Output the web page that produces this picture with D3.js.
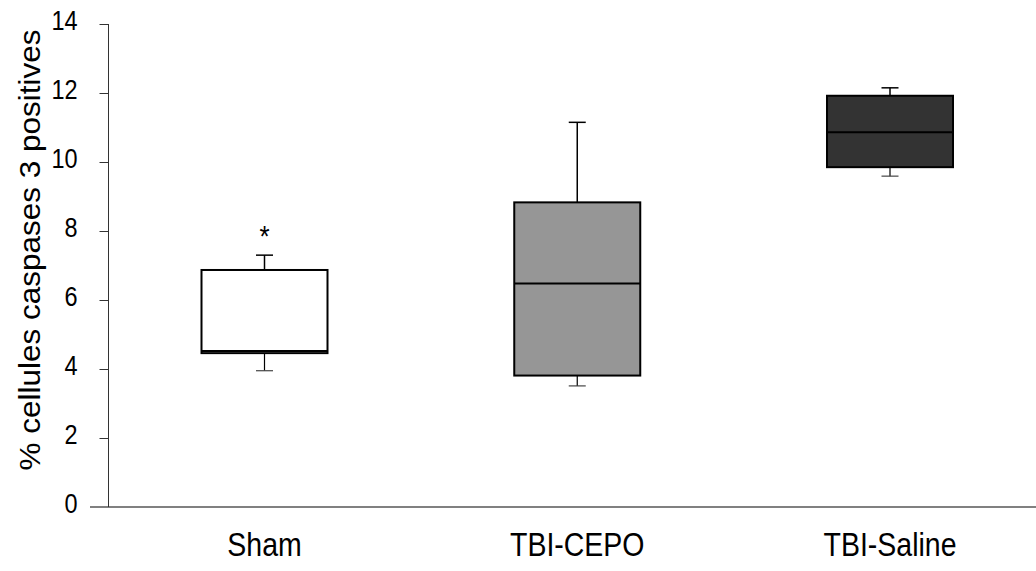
<!DOCTYPE html>
<html><head><meta charset="utf-8">
<script src="https://cdn.jsdelivr.net/npm/d3@7"></script>
<style>html,body{margin:0;padding:0;background:#fff;}svg{display:block;}</style>
</head><body>
<svg id="c" width="1036" height="571"></svg>
<script>
const categories = ["Sham", "TBI-CEPO", "TBI-Saline"];
const whiskerLow  = [3.95, 3.51, 9.59];
const q1          = [4.46, 3.81, 9.85];
const median      = [4.52, 6.48, 10.86];
const q3          = [6.87, 8.83, 11.92];
const whiskerHigh = [7.30, 11.15, 12.15];
const fills       = ["#ffffff", "#969696", "#333333"];
const yTicks      = [0, 2, 4, 6, 8, 10, 12, 14];
const annotations = ["*", "", ""];
const yLabel = "% cellules caspases 3 positives";

const svg = d3.select("#c");
const font = "'Liberation Sans', Arial, sans-serif";
const x = d3.scalePoint().domain(categories).range([264.5, 890]);
const y = d3.scaleLinear().domain([0, 14]).range([507, 24]);
const boxW = 126, capW = 17;
const stretch = 1.15;

// x axis line (gray)
svg.append("line").attr("x1", 90).attr("x2", 1036).attr("y1", y(0)).attr("y2", y(0))
  .attr("stroke", "#808080").attr("stroke-width", 2);

// y axis
const yAxis = svg.append("g").attr("transform", "translate(108.5,0)")
  .call(d3.axisLeft(y).tickValues(yTicks).tickSize(9).tickPadding(22).tickFormat(d3.format("d")));
yAxis.select(".domain").attr("stroke", "#333").attr("d", `M0,${y(14)}V${y(0)}`);
yAxis.selectAll(".tick line").attr("stroke", "#333");
yAxis.selectAll(".tick").filter(d => d === 0).select("line").remove();
yAxis.selectAll("text").attr("font-family", font).attr("font-size", 23.5).attr("fill", "#000")
  .attr("dy", null).attr("y", 0)
  .attr("transform", `translate(0,5) scale(1,${stretch})`);

// y label
svg.append("text").attr("transform", `translate(40,250) rotate(-90) scale(1.05,1)`)
  .attr("text-anchor", "middle").attr("font-family", font).attr("font-size", 30)
  .attr("fill", "#000").text(yLabel);

// boxes
const g = svg.append("g");
categories.forEach((c, i) => {
  const cx = x(c);
  g.append("line").attr("x1", cx).attr("x2", cx).attr("y1", y(q3[i])).attr("y2", y(whiskerHigh[i]))
    .attr("stroke", "#000").attr("stroke-width", 1.5);
  g.append("line").attr("x1", cx - capW/2).attr("x2", cx + capW/2).attr("y1", y(whiskerHigh[i])).attr("y2", y(whiskerHigh[i]))
    .attr("stroke", "#000").attr("stroke-width", 1.5);
  g.append("line").attr("x1", cx).attr("x2", cx).attr("y1", y(q1[i])).attr("y2", y(whiskerLow[i]))
    .attr("stroke", "#000").attr("stroke-width", 1.2);
  g.append("line").attr("x1", cx - capW/2).attr("x2", cx + capW/2).attr("y1", y(whiskerLow[i])).attr("y2", y(whiskerLow[i]))
    .attr("stroke", "#444").attr("stroke-width", 1.2);
  g.append("rect").attr("x", cx - boxW/2).attr("y", y(q3[i])).attr("width", boxW)
    .attr("height", y(q1[i]) - y(q3[i])).attr("fill", fills[i]).attr("stroke", "#000").attr("stroke-width", 2);
  g.append("line").attr("x1", cx - boxW/2).attr("x2", cx + boxW/2).attr("y1", y(median[i])).attr("y2", y(median[i]))
    .attr("stroke", "#000").attr("stroke-width", 2);
  if (annotations[i]) {
    g.append("text").attr("transform", `translate(${cx},${y(whiskerHigh[i]) - 9}) scale(1,${stretch})`)
      .attr("text-anchor", "middle")
      .attr("font-family", font).attr("font-size", 26).attr("fill", "#000").text(annotations[i]);
  }
});

// category labels
svg.append("g").selectAll("text").data(categories).join("text")
  .attr("transform", d => `translate(${x(d)},556) scale(1,${stretch})`).attr("text-anchor", "middle")
  .attr("font-family", font).attr("font-size", 28.5).attr("fill", "#000").text(d => d);
</script>
</body></html>
